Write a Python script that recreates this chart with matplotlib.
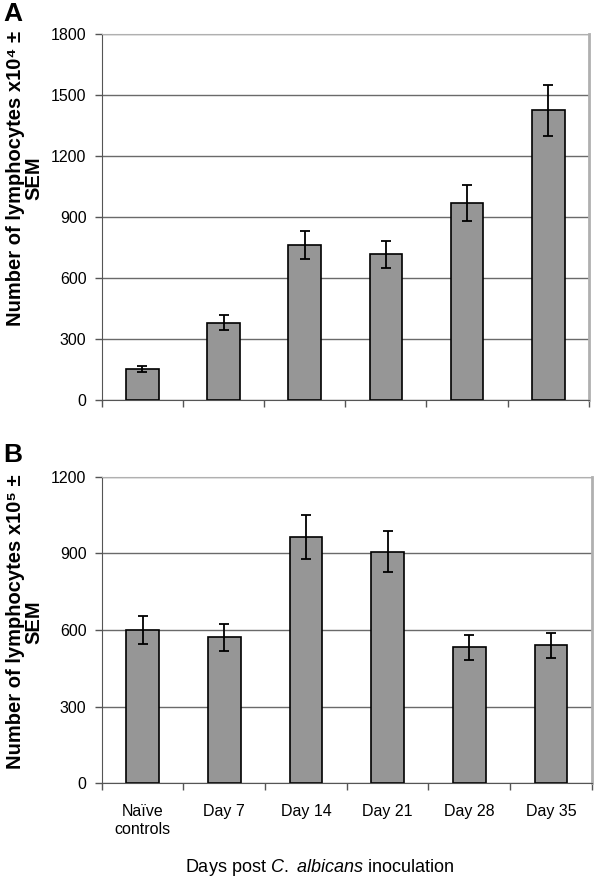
import numpy as np
import matplotlib.pyplot as plt

plt.rcParams["mathtext.fontset"] = "custom"
plt.rcParams["mathtext.it"] = "Liberation Sans:italic"
plt.rcParams["mathtext.rm"] = "Liberation Sans"

# categorias
dias = ["Naïve\ncontrols", "Day 7", "Day 14", "Day 21", "Day 28", "Day 35"]

# panel A (x10^4)
medias_a = [152, 379, 762, 716, 969, 1425]
sem_a = [14, 37, 69, 65, 89, 125]

# panel B (x10^5)
medias_b = [600, 571, 963, 907, 532, 540]
sem_b = [55, 52, 87, 82, 49, 50]

fuente = ["Liberation Sans", "DejaVu Sans"]

fig = plt.figure(figsize=(6, 8.85), dpi=100)
ax_a = fig.add_axes([0.1695, 0.548, 0.812, 0.4136])
ax_b = fig.add_axes([0.1695, 0.1149, 0.817, 0.3465])


def panel(ax, medias, sem, ymax, paso, etiquetas):
    x = np.arange(len(medias))
    ax.set_axisbelow(True)
    ax.yaxis.grid(True, color="#6a6a6a", linewidth=1)
    ax.bar(x, medias, width=0.4, color="#969696", edgecolor="black", linewidth=1.2, zorder=2)
    ax.errorbar(x, medias, yerr=sem, fmt="none", ecolor="black", elinewidth=1.3,
                capsize=3.5, capthick=1.3, zorder=3)
    ax.set_xlim(-0.5, len(medias) - 0.5)
    ax.set_ylim(0, ymax)
    ax.set_yticks(np.arange(0, ymax + 1, paso))
    ax.set_xticks(np.arange(-0.5, len(medias), 1.0))
    ax.set_xticklabels([])
    ax.tick_params(axis="both", direction="out", length=5, width=1, color="#555555")
    ax.tick_params(axis="y", pad=6)
    for lab in ax.get_yticklabels():
        lab.set_family(fuente)
        lab.set_fontsize(11.5)
    if etiquetas:
        ax.set_xticks(x, minor=True)
        ax.set_xticklabels(etiquetas, minor=True, fontsize=11.5, family=fuente)
        ax.tick_params(axis="x", which="minor", length=0, pad=15)
    ax.spines["left"].set_color("#555555")
    ax.spines["bottom"].set_color("#555555")
    ax.spines["top"].set_color("#b0b0b0")
    ax.spines["right"].set_color("#b0b0b0")
    ax.spines["right"].set_linewidth(2)


panel(ax_a, medias_a, sem_a, 1800, 300, None)
panel(ax_b, medias_b, sem_b, 1200, 300, dias)

fig.text(0.005, 0.998, "A", fontsize=19, fontweight="bold", family=fuente, va="top")
fig.text(0.005, 0.5, "B", fontsize=19, fontweight="bold", family=fuente, va="top")

fig.text(0.041, 1 - 178 / 885, "Number of lymphocytes x10⁴ ±\nSEM", rotation=90,
         fontsize=14.5, fontweight="bold", family=fuente, ha="center", va="center",
         multialignment="center", linespacing=0.95)
fig.text(0.041, 1 - 622 / 885, "Number of lymphocytes x10⁵ ±\nSEM", rotation=90,
         fontsize=14.5, fontweight="bold", family=fuente, ha="center", va="center",
         multialignment="center", linespacing=0.95)

fig.text(320 / 600, 1 - 868 / 885, "Days post $\\mathit{C.}$ $\\mathit{albicans}$ inoculation",
         fontsize=13, family=fuente, ha="center", va="center")

fig.savefig("out.png", dpi=100)
